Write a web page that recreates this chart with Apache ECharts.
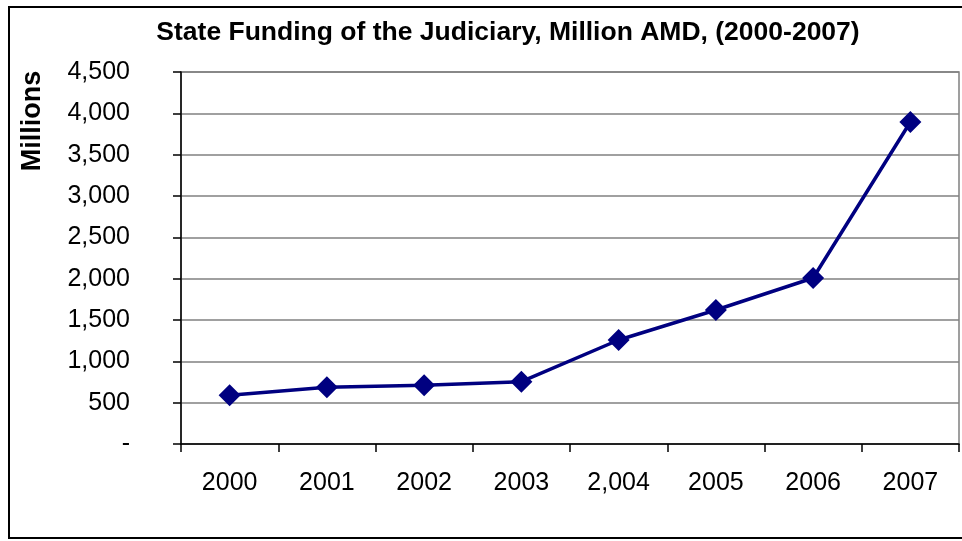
<!DOCTYPE html>
<html>
<head>
<meta charset="utf-8">
<script src="https://cdn.jsdelivr.net/npm/echarts@6/dist/echarts.min.js"></script>
<style>
html,body{margin:0;padding:0;background:#fff;}
#chart{width:962px;height:541px;}
</style>
</head>
<body>
<div id="chart"></div>
<script>
var categories = ["2000", "2001", "2002", "2003", "2,004", "2005", "2006", "2007"];
var funding = [590, 686, 710, 754, 1258, 1621, 2008, 3895];
var yTickValues = [0, 500, 1000, 1500, 2000, 2500, 3000, 3500, 4000, 4500];
var yTickLabels = ["-", "500", "1,000", "1,500", "2,000", "2,500", "3,000", "3,500", "4,000", "4,500"];

var font = '"Liberation Sans", Arial, sans-serif';
var chart = echarts.init(document.getElementById('chart'));
chart.setOption({
  animation: false,
  backgroundColor: '#fff',
  title: {
    text: 'State Funding of the Judiciary, Million AMD, (2000-2007)',
    left: 503, top: 14, textAlign: 'center',
    textStyle: {fontFamily: font, fontWeight: 'bold', fontSize: 26.5, color: '#000'}
  },
  graphic: [
    {type: 'rect', shape: {x: 9, y: 7, width: 970, height: 531},
     style: {fill: 'none', stroke: '#000', lineWidth: 2}, z: -1},
    {type: 'text', x: 33, y: 121, rotation: Math.PI / 2,
     style: {text: 'Millions', fontFamily: font, fontWeight: 'bold', fontSize: 27,
             fill: '#000', textAlign: 'center', textVerticalAlign: 'middle'}}
  ],
  grid: {left: 181, right: 3, top: 72, bottom: 97, show: true,
         borderColor: '#808080', borderWidth: 1.5, backgroundColor: '#fff'},
  xAxis: {
    type: 'category', data: categories, boundaryGap: true,
    axisLine: {lineStyle: {color: '#000', width: 1.5}},
    axisTick: {show: true, inside: false, length: 8, lineStyle: {color: '#000', width: 1.5}},
    axisLabel: {margin: 27, fontFamily: font, fontSize: 25, color: '#000'},
    splitLine: {show: false}
  },
  yAxis: {
    type: 'value', min: 0, max: 4500, interval: 500,
    axisLine: {show: true, lineStyle: {color: '#000', width: 1.5}},
    axisTick: {show: true, length: 8, lineStyle: {color: '#000', width: 1.5}},
    axisLabel: {margin: 51, fontFamily: font, fontSize: 25, color: '#000',
      formatter: function (v) { var i = yTickValues.indexOf(v); return i >= 0 ? yTickLabels[i] : ''; }},
    splitLine: {show: true, lineStyle: {color: '#808080', width: 1.5}}
  },
  series: [{
    type: 'line', data: funding,
    symbol: 'diamond', symbolSize: 22,
    lineStyle: {color: '#000080', width: 3.5},
    itemStyle: {color: '#000080'}
  }]
});
</script>
</body>
</html>
